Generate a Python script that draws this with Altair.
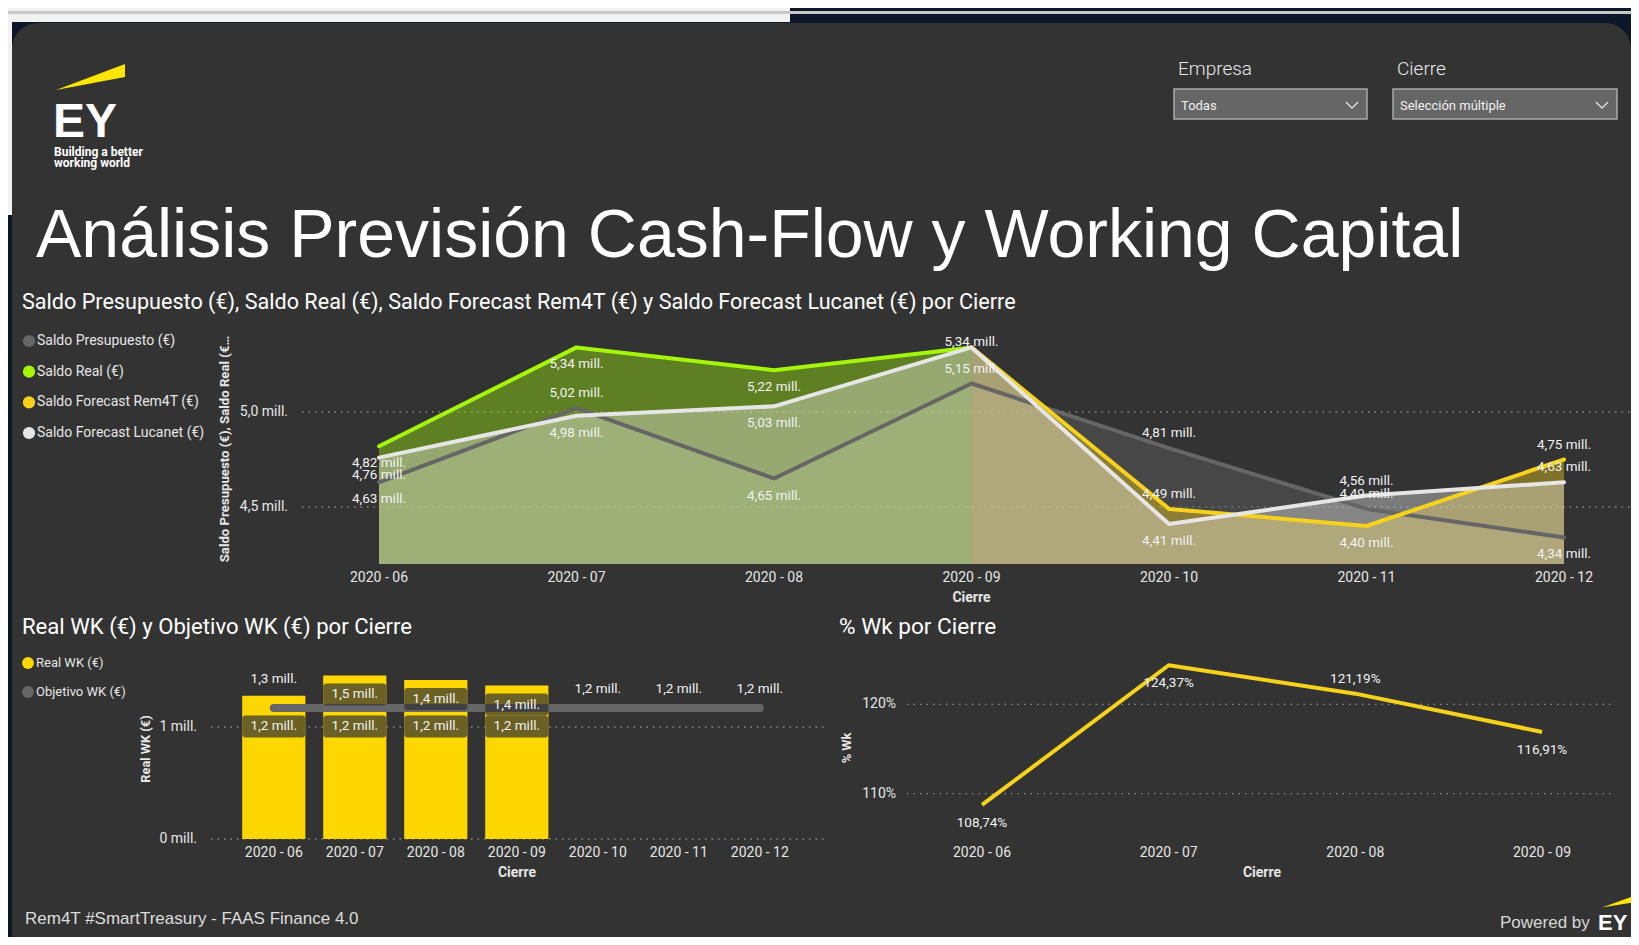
import altair as alt
import pandas as pd

# ---------------- data ----------------
MONTHS = ["2020 - 06", "2020 - 07", "2020 - 08", "2020 - 09", "2020 - 10", "2020 - 11", "2020 - 12"]
SERIES = ["Saldo Presupuesto (€)", "Saldo Real (€)", "Saldo Forecast Rem4T (€)", "Saldo Forecast Lucanet (€)"]
SALDO_PRESUPUESTO = [4.63, 5.02, 4.65, 5.15, 4.81, 4.49, 4.34]
SALDO_REAL = [4.82, 5.34, 5.22, 5.34, None, None, None]
SALDO_REM4T = [None, None, None, 5.34, 4.49, 4.40, 4.75]
SALDO_LUCANET = [4.76, 4.98, 5.03, 5.34, 4.41, 4.56, 4.63]
SALDO_TICKS = [4.5, 5.0]
LBL_PRESUPUESTO = ["below", "above", "below", "above", "above", "above", "below"]
LBL_REAL = ["below", "below", "below", None, None, None, None]
LBL_REM4T = [None, None, None, "top", "above", "below", "above"]
LBL_LUCANET = ["below", "below", "below", None, "below", "above", "above"]

WK_SERIES = ["Real WK (€)", "Objetivo WK (€)"]
REAL_WK = [1.28, 1.46, 1.42, 1.37, None, None, None]
OBJETIVO_WK = [1.17, 1.17, 1.17, 1.17, 1.17, 1.17, 1.17]
WK_TICKS = [0, 1]
LBL_REAL_WK = ["above", "inside", "inside", "inside", None, None, None]
LBL_OBJ_WK = ["inside", "inside", "inside", "inside", "above", "above", "above"]

PCT_MONTHS = ["2020 - 06", "2020 - 07", "2020 - 08", "2020 - 09"]
PCT_WK = [108.74, 124.37, 121.19, 116.91]
PCT_TICKS = [110, 120]
LBL_PCT = ["below", "below", "above", "below"]

# ---------------- style ----------------
BG = "#333333"
NAVY = "#0c1829"
TXT = "#FFFFFF"
AX = "#E6E6E6"
GRID = "#8C8C8C"
C_PRES = "#666666"
C_REAL = "#A3F50A"
C_REM = "#F6D21C"
C_LUC = "#E6E6E6"
C_BAR = "#FFD700"
C_OBJ = "#666666"
EY_YEL = "#FFE600"
FONT = "Roboto"
FONT2 = "Liberation Sans"
SERIES_COLORS = [C_PRES, C_REAL, C_REM, C_LUC]


def X(v):
    return v - 8


def Y(v):
    return v - 8


def mill(v, d):
    return f"{v:.{d}f}".replace(".", ",") + " mill."


def text(t, x, y, size, color=TXT, font=FONT, weight="normal", align="left", baseline="middle", angle=0):
    return alt.Chart(pd.DataFrame({"t": [t]})).mark_text(
        font=font, fontSize=size, fontWeight=weight, color=color, align=align,
        baseline=baseline, angle=angle
    ).encode(x=alt.value(X(x)), y=alt.value(Y(y)), text="t:N")


def rect(x1, y1, x2, y2, fill, **kw):
    return alt.Chart(pd.DataFrame({"a": [0]})).mark_rect(color=fill, **kw).encode(
        x=alt.value(X(x1)), x2=alt.value(X(x2)), y=alt.value(Y(y1)), y2=alt.value(Y(y2)))


def symbol(x, y, shape, size, color, filled=True, sw=0):
    return alt.Chart(pd.DataFrame({"a": [0]})).mark_point(
        shape=shape, size=size, filled=filled, color=color, opacity=1, strokeWidth=sw
    ).encode(x=alt.value(X(x)), y=alt.value(Y(y)))


layers = []

# ---------------- frame ----------------
layers += [
    rect(8, 8, 1631, 945, NAVY),
    rect(8, 8, 790, 22, "#F2F2F2"),
    rect(8, 8, 12, 215, "#F2F2F2"),
    rect(8, 11, 1631, 14, "#C8C8C8"),
    rect(12, 23, 1631, 990, BG, cornerRadius=26),
]

# ---------------- header ----------------
layers += [
    symbol(90.5, 77, "M -1 0.377 L 1 -0.377 L 1 0 Z", 69 * 69, EY_YEL),
    text("EY", 53, 137, 48, font=FONT2, weight="bold", baseline="alphabetic"),
    text("Building a better", 54, 152, 12, weight="bold"),
    text("working world", 54, 163, 12, weight="bold"),
    text("Análisis Previsión Cash-Flow y Working Capital", 36, 257, 68, font=FONT2, baseline="alphabetic"),
    text("Empresa", 1178, 75, 19, color="#E8E8E8", weight=300, baseline="alphabetic"),
    text("Cierre", 1397, 75, 19, color="#E8E8E8", weight=300, baseline="alphabetic"),
    rect(1174, 89, 1367, 119, "#666666", stroke="#AAAAAA", strokeWidth=1.5),
    rect(1393, 89, 1617, 119, "#666666", stroke="#AAAAAA", strokeWidth=1.5),
    text("Todas", 1181, 106, 13, color="#F0F0F0"),
    text("Selección múltiple", 1400, 106, 13, color="#F0F0F0"),
    symbol(1352, 105, "M -1 -0.5 L 0 0.5 L 1 -0.5", 150, "#E0E0E0", filled=False, sw=1.3),
    symbol(1602, 105, "M -1 -0.5 L 0 0.5 L 1 -0.5", 150, "#E0E0E0", filled=False, sw=1.3),
]

# ---------------- top chart ----------------
top_x = alt.Scale(type="point", domain=MONTHS, range=[X(379), X(1564)], padding=0)
top_y = alt.Scale(domain=[4.2, 5.45], range=[Y(564), Y(564 - 1.25 * 190)], zero=False, nice=False)

rows = []
for s, vals, lbls in zip(SERIES, [SALDO_PRESUPUESTO, SALDO_REAL, SALDO_REM4T, SALDO_LUCANET],
                         [LBL_PRESUPUESTO, LBL_REAL, LBL_REM4T, LBL_LUCANET]):
    for m, v, p in zip(MONTHS, vals, lbls):
        if v is not None:
            rows.append({"series": s, "month": m, "value": v, "pos": p or "none", "label": mill(v, 2)})
saldo = pd.DataFrame(rows)

layers.append(text("Saldo Presupuesto (€), Saldo Real (€), Saldo Forecast Rem4T (€) y Saldo Forecast Lucanet (€) por Cierre",
                   22, 303, 21.6))

tk = pd.DataFrame({"t": SALDO_TICKS, "lbl": [mill(v, 1) for v in SALDO_TICKS]})
layers.append(alt.Chart(tk).mark_rule(color=GRID, strokeDash=[1.5, 5], strokeWidth=1.3).encode(
    y=alt.Y("t:Q", scale=top_y, axis=None), x=alt.value(X(302)), x2=alt.value(X(1640))))
layers.append(alt.Chart(tk).mark_text(font=FONT, fontSize=14, color=AX, align="right", baseline="middle").encode(
    y=alt.Y("t:Q", scale=top_y, axis=None), x=alt.value(X(288)), text="lbl:N"))

for s, c in zip(SERIES, SERIES_COLORS):
    d = saldo[saldo.series == s]
    layers.append(alt.Chart(d).mark_area(color=c, opacity=0.4).encode(
        x=alt.X("month:N", scale=top_x, axis=None),
        y=alt.Y("value:Q", scale=top_y, axis=None),
        y2=alt.Y2Datum(4.2)))
for s, c in zip(SERIES, SERIES_COLORS):
    d = saldo[saldo.series == s]
    layers.append(alt.Chart(d).mark_line(color=c, strokeWidth=4, strokeJoin="round", strokeCap="round").encode(
        x=alt.X("month:N", scale=top_x, axis=None),
        y=alt.Y("value:Q", scale=top_y, axis=None)))
for pos, dy in [("above", -15), ("below", 17), ("top", -5)]:
    layers.append(alt.Chart(saldo[saldo.pos == pos]).mark_text(
        font=FONT, fontSize=13.5, color="#F2F2F2", baseline="middle", dy=dy).encode(
        x=alt.X("month:N", scale=top_x, axis=None),
        y=alt.Y("value:Q", scale=top_y, axis=None), text="label:N"))

months_df = pd.DataFrame({"month": MONTHS})
layers.append(alt.Chart(months_df).mark_text(font=FONT, fontSize=14, color=AX, baseline="middle").encode(
    x=alt.X("month:N", scale=top_x, axis=None), y=alt.value(Y(577.5)), text="month:N"))
layers.append(text("Cierre", 971.5, 598, 14, color=AX, weight="bold", align="center"))
layers.append(text("Saldo Presupuesto (€), Saldo Real (€…", 225, 449, 13.2, color=AX, weight="bold",
                   align="center", angle=270))

leg = pd.DataFrame({"series": SERIES})
leg_y = alt.Scale(type="point", domain=SERIES, range=[Y(341), Y(433)], padding=0)
layers.append(alt.Chart(leg).mark_circle(size=150, opacity=1).encode(
    x=alt.value(X(29)), y=alt.Y("series:N", scale=leg_y, axis=None),
    color=alt.Color("series:N", scale=alt.Scale(domain=SERIES, range=SERIES_COLORS), legend=None)))
layers.append(alt.Chart(leg).mark_text(font=FONT, fontSize=14, color=AX, align="left", baseline="middle").encode(
    x=alt.value(X(37)), y=alt.Y("series:N", scale=leg_y, axis=None), text="series:N"))

# ---------------- bottom left: WK bars ----------------
bl_x = alt.Scale(type="band", domain=MONTHS, range=[X(242.2), X(791.4)], paddingInner=0.22, paddingOuter=0)
bl_y = alt.Scale(domain=[0, 1.6], range=[Y(839), Y(839 - 1.6 * 112)], zero=True, nice=False)

real_df = pd.DataFrame([{"month": m, "value": v, "pos": p, "label": mill(v, 1)}
                        for m, v, p in zip(MONTHS, REAL_WK, LBL_REAL_WK) if v is not None])
obj_df = pd.DataFrame([{"month": m, "value": v, "pos": p, "label": mill(v, 1)}
                       for m, v, p in zip(MONTHS, OBJETIVO_WK, LBL_OBJ_WK)])

layers.append(text("Real WK (€) y Objetivo WK (€) por Cierre", 22, 627, 22.1))

wtk = pd.DataFrame({"t": WK_TICKS, "lbl": [f"{v} mill." for v in WK_TICKS]})
layers.append(alt.Chart(wtk).mark_rule(color=GRID, strokeDash=[1.5, 5], strokeWidth=1.3).encode(
    y=alt.Y("t:Q", scale=bl_y, axis=None), x=alt.value(X(211)), x2=alt.value(X(826))))
layers.append(alt.Chart(wtk).mark_text(font=FONT, fontSize=14, color=AX, align="right", baseline="middle").encode(
    y=alt.Y("t:Q", scale=bl_y, axis=None), x=alt.value(X(197)), text="lbl:N"))

layers.append(alt.Chart(real_df).mark_bar(color=C_BAR).encode(
    x=alt.X("month:N", scale=bl_x, axis=None), y=alt.Y("value:Q", scale=bl_y, axis=None)))
layers.append(alt.Chart(obj_df).mark_line(color=C_OBJ, strokeWidth=8, strokeCap="round").encode(
    x=alt.X("month:N", scale=bl_x, axis=None), y=alt.Y("value:Q", scale=bl_y, axis=None)))

for d, off in [(real_df[real_df.pos == "inside"], 19), (obj_df[obj_df.pos == "inside"], 18.5)]:
    layers.append(alt.Chart(d).mark_tick(orient="horizontal", size=63, thickness=22, color=BG,
                                         opacity=0.72, yOffset=off, cornerRadius=3).encode(
        x=alt.X("month:N", scale=bl_x, axis=None), y=alt.Y("value:Q", scale=bl_y, axis=None)))
for d, dy in [(real_df[real_df.pos == "inside"], 19), (real_df[real_df.pos == "above"], -17),
              (obj_df[obj_df.pos == "inside"], 18.5), (obj_df[obj_df.pos == "above"], -18.5)]:
    layers.append(alt.Chart(d).mark_text(font=FONT, fontSize=13.5, color="#F2F2F2", baseline="middle", dy=dy).encode(
        x=alt.X("month:N", scale=bl_x, axis=None), y=alt.Y("value:Q", scale=bl_y, axis=None), text="label:N"))

layers.append(alt.Chart(months_df).mark_text(font=FONT, fontSize=14, color=AX, baseline="middle").encode(
    x=alt.X("month:N", scale=bl_x, axis=None), y=alt.value(Y(852.5)), text="month:N"))
layers.append(text("Cierre", 517, 872.5, 14, color=AX, weight="bold", align="center"))
layers.append(text("Real WK (€)", 146, 749, 12.8, color=AX, weight="bold", align="center", angle=270))

wleg = pd.DataFrame({"series": WK_SERIES})
wleg_y = alt.Scale(type="point", domain=WK_SERIES, range=[Y(663), Y(692)], padding=0)
layers.append(alt.Chart(wleg).mark_circle(size=140, opacity=1).encode(
    x=alt.value(X(28)), y=alt.Y("series:N", scale=wleg_y, axis=None),
    color=alt.Color("series:N", scale=alt.Scale(domain=WK_SERIES, range=[C_BAR, C_OBJ]), legend=None)))
layers.append(alt.Chart(wleg).mark_text(font=FONT, fontSize=13, color=AX, align="left", baseline="middle").encode(
    x=alt.value(X(36)), y=alt.Y("series:N", scale=wleg_y, axis=None), text="series:N"))

# ---------------- bottom right: % Wk ----------------
br_x = alt.Scale(type="point", domain=PCT_MONTHS, range=[X(982), X(1542)], padding=0)
br_y = alt.Scale(domain=[105, 126], range=[Y(793.7 + 5 * 8.94), Y(704.3 - 6 * 8.94)], zero=False, nice=False)

pct_df = pd.DataFrame({"month": PCT_MONTHS, "value": PCT_WK, "pos": LBL_PCT,
                       "label": [f"{v:.2f}".replace(".", ",") + "%" for v in PCT_WK]})

layers.append(text("% Wk por Cierre", 839, 627, 22.6))
ptk = pd.DataFrame({"t": PCT_TICKS, "lbl": [f"{v}%" for v in PCT_TICKS]})
layers.append(alt.Chart(ptk).mark_rule(color=GRID, strokeDash=[1.5, 5], strokeWidth=1.3).encode(
    y=alt.Y("t:Q", scale=br_y, axis=None), x=alt.value(X(907)), x2=alt.value(X(1614))))
layers.append(alt.Chart(ptk).mark_text(font=FONT, fontSize=14, color=AX, align="right", baseline="middle").encode(
    y=alt.Y("t:Q", scale=br_y, axis=None), x=alt.value(X(896)), text="lbl:N"))
layers.append(alt.Chart(pct_df).mark_line(color=C_REM, strokeWidth=4, strokeJoin="round").encode(
    x=alt.X("month:N", scale=br_x, axis=None), y=alt.Y("value:Q", scale=br_y, axis=None)))
for pos, dy in [("above", -14.5), ("below", 18)]:
    layers.append(alt.Chart(pct_df[pct_df.pos == pos]).mark_text(
        font=FONT, fontSize=13.5, color="#F2F2F2", baseline="middle", dy=dy).encode(
        x=alt.X("month:N", scale=br_x, axis=None), y=alt.Y("value:Q", scale=br_y, axis=None), text="label:N"))
layers.append(alt.Chart(pd.DataFrame({"month": PCT_MONTHS})).mark_text(
    font=FONT, fontSize=14, color=AX, baseline="middle").encode(
    x=alt.X("month:N", scale=br_x, axis=None), y=alt.value(Y(852.5)), text="month:N"))
layers.append(text("Cierre", 1262, 872.5, 14, color=AX, weight="bold", align="center"))
layers.append(text("% Wk", 846.5, 748, 12.8, color=AX, weight="bold", align="center", angle=270))

# ---------------- footer ----------------
layers += [
    text("Rem4T #SmartTreasury - FAAS Finance 4.0", 25, 919, 17, color="#DDDDDD", font=FONT2),
    text("Powered by", 1500, 922.5, 17, color="#D8D8D8", font=FONT2),
    text("EY", 1598, 923, 22, font=FONT2, weight="bold"),
    symbol(1617, 901.5, "M -1 0.4 L 1 -0.33 L 1 0.07 Z", 30 * 30, EY_YEL),
]

chart = alt.layer(*layers).resolve_scale(
    x="independent", y="independent", color="independent"
).properties(
    width=1623, height=929, padding=0, background=NAVY,
    autosize=alt.AutoSizeParams(type="none"),
).configure_view(stroke=None)

chart.save("out.html", embed_options={"renderer": "svg", "actions": False})
